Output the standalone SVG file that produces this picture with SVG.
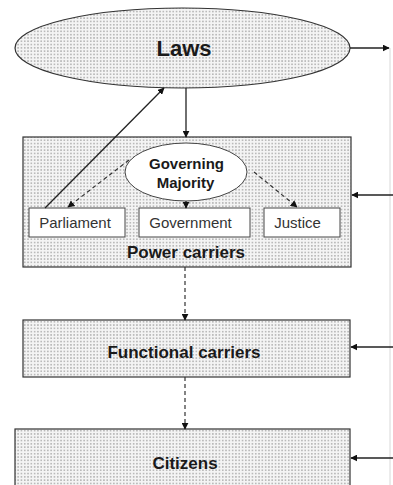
<svg xmlns="http://www.w3.org/2000/svg" width="393" height="485" viewBox="0 0 393 485">
  <style>
    .shape { stroke: #333; stroke-width: 1.2; }
    .dotted { fill: url(#dots); }
    .plain { fill: #fff; stroke: #444; stroke-width: 1; }
    .line { stroke: #222; stroke-width: 1.3; fill: none; }
    .dash { stroke: #333; stroke-width: 1.2; fill: none; stroke-dasharray: 4 3; }
    .feed { stroke: #d8d8d8; stroke-width: 1; fill: none; }
    .bold { font-family: "Liberation Sans", Arial, sans-serif; font-weight: bold; fill: #1a1a1a; text-anchor: middle; }
    .reg { font-family: "Liberation Sans", Arial, sans-serif; fill: #333; text-anchor: middle; font-size: 15px; }
  </style>
  <defs>
    <pattern id="dots" patternUnits="userSpaceOnUse" width="3.3" height="3.3">
      <rect width="3.3" height="3.3" fill="#f4f4f4"/>
      <circle cx="1.65" cy="1.65" r="0.85" fill="#a8a8a8"/>
    </pattern>
    <marker id="arr" viewBox="0 0 10 10" refX="9" refY="5" markerWidth="7" markerHeight="7" markerUnits="userSpaceOnUse" orient="auto">
      <path d="M0,0 L10,5 L0,10 z" fill="#111"/>
    </marker>
  </defs>

  <!-- right-hand feedback rail -->
  <line class="feed" x1="390" y1="48" x2="390" y2="485"/>

  <g id="laws">
    <ellipse class="shape dotted" cx="182.5" cy="48" rx="167.5" ry="40"/>
    <text class="bold" x="184" y="56" font-size="22">Laws</text>
  </g>

  <g id="power-carriers">
    <rect class="shape dotted" x="23" y="137" width="328" height="130"/>
    <text class="bold" x="186" y="258" font-size="17">Power carriers</text>
  </g>

  <g id="governing-majority">
    <ellipse class="plain" cx="186" cy="172" rx="61" ry="29"/>
    <text class="bold" x="186.5" y="169" font-size="15">Governing</text>
    <text class="bold" x="185.5" y="188" font-size="15">Majority</text>
  </g>

  <g id="parliament">
    <rect class="plain" x="29" y="208" width="96" height="29"/>
    <text class="reg" x="75" y="228">Parliament</text>
  </g>

  <g id="government">
    <rect class="plain" x="139" y="208" width="111" height="29"/>
    <text class="reg" x="190.5" y="228">Government</text>
  </g>

  <g id="justice">
    <rect class="plain" x="264" y="208" width="76" height="29"/>
    <text class="reg" x="297.5" y="228">Justice</text>
  </g>

  <g id="functional-carriers">
    <rect class="shape dotted" x="23" y="320" width="327" height="57"/>
    <text class="bold" x="184" y="358" font-size="17">Functional carriers</text>
  </g>

  <g id="citizens">
    <rect class="shape dotted" x="15" y="429" width="335" height="70"/>
    <text class="bold" x="185" y="469" font-size="17">Citizens</text>
  </g>

  <g id="connectors">
    <line class="line" x1="350" y1="48" x2="389" y2="48" marker-end="url(#arr)"/>
    <line class="line" x1="186" y1="88" x2="186" y2="137" marker-end="url(#arr)"/>
    <line class="line" x1="45" y1="208" x2="164" y2="88" marker-end="url(#arr)"/>
    <line class="dash" x1="129" y1="160" x2="68" y2="207" marker-end="url(#arr)"/>
    <line class="dash" x1="254" y1="172" x2="297" y2="207" marker-end="url(#arr)"/>
    <line class="line" x1="186" y1="201" x2="186" y2="208" marker-end="url(#arr)"/>
    <line class="line" x1="393" y1="195" x2="352" y2="195" marker-end="url(#arr)"/>
    <line class="dash" x1="185" y1="267" x2="185" y2="320" marker-end="url(#arr)"/>
    <line class="line" x1="393" y1="347" x2="351" y2="347" marker-end="url(#arr)"/>
    <line class="dash" x1="185" y1="377" x2="185" y2="429" marker-end="url(#arr)"/>
    <line class="line" x1="393" y1="458" x2="351" y2="458" marker-end="url(#arr)"/>
  </g>
</svg>
